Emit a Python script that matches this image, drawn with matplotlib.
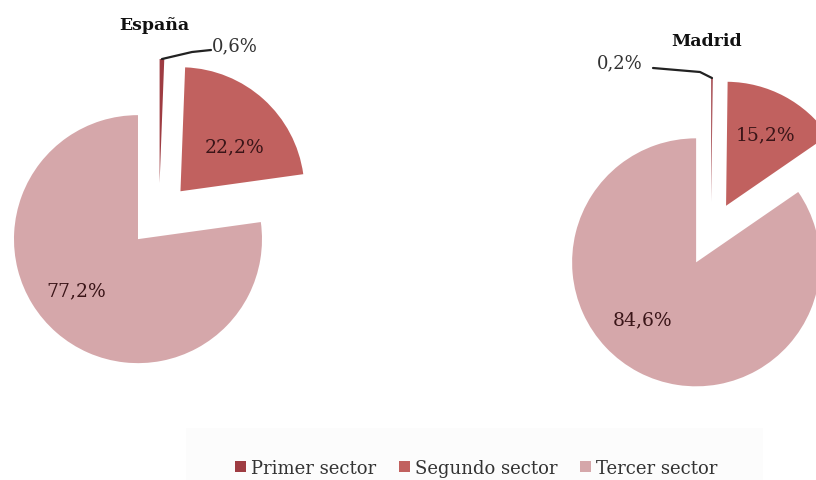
import matplotlib
matplotlib.use("Agg")
import matplotlib.pyplot as plt
from matplotlib.patches import Patch, Rectangle
import numpy as np

# Employment share by sector (%)
sectors = ["Primer sector", "Segundo sector", "Tercer sector"]
espana = [0.6, 22.2, 77.2]
madrid = [0.2, 15.2, 84.6]
regions = ["España", "Madrid"]

colors = ["#9E3C42", "#C1615F", "#D5A7AA"]
label_color = "#3A1518"
text_gray = "#333333"

W, H = 816, 481
fig = plt.figure(figsize=(W / 100, H / 100), dpi=100)
ax = fig.add_axes([0, 0, 1, 1])

radius = 124
explode = 32


def fmt(v):
    return f"{v:.1f}".replace(".", ",") + "%"


def draw_pie(values, center, title, title_pos, label_pos, leader):
    wedges, _ = ax.pie(values, radius=radius, center=center, startangle=90,
                       counterclock=False, explode=[explode] * len(values),
                       colors=colors, wedgeprops=dict(linewidth=0))
    ax.text(*title_pos, title, ha="center", va="center", fontsize=12.5,
            fontweight="bold", family="DejaVu Serif", color="#111111")
    # small first slice: label outside with leader line
    w0 = wedges[0]
    mid = np.deg2rad(0.5 * (w0.theta1 + w0.theta2))
    anchor = (w0.center[0] + w0.r * np.cos(mid), w0.center[1] + w0.r * np.sin(mid))
    (lx, ly), knee, start = label_pos[0], leader[0], leader[1]
    ax.plot([start[0], knee[0], anchor[0]], [start[1], knee[1], anchor[1]],
            color="#222222", lw=1.6, solid_capstyle="round")
    ax.text(lx, ly, fmt(values[0]), ha="center", va="center", fontsize=13,
            family="DejaVu Serif", color=text_gray)
    for v, pos in zip(values[1:], label_pos[1:]):
        ax.text(*pos, fmt(v), ha="center", va="center", fontsize=13.5,
                family="DejaVu Serif", color=label_color)


draw_pie(espana, (159, H - 216), regions[0], (154, H - 26),
         [(235, H - 46), (235, H - 147), (76, H - 291)],
         [(192, H - 53), (211, H - 51)])
draw_pie(madrid, (711, H - 235), regions[1], (707, H - 41),
         [(620, H - 63), (766, H - 135), (643, H - 320)],
         [(700, H - 73), (653, H - 69)])

# faint panel behind the legend
ax.add_patch(Rectangle((186, 0), 577, H - 429, facecolor="#FCFCFC",
                       edgecolor="none", zorder=0))

ax.set_xlim(0, W)
ax.set_ylim(0, H)
ax.set_aspect("equal")
ax.axis("off")

handles = [Patch(facecolor=c, edgecolor="none") for c in colors]
fig.legend(handles, sectors, loc="center", bbox_to_anchor=(476 / W, 1 - 469 / H),
           ncol=3, frameon=False, handlelength=0.6, handleheight=0.6,
           handletextpad=0.28, columnspacing=1.27,
           prop=dict(family="DejaVu Serif", size=13), labelcolor=text_gray)

fig.savefig("out.png", dpi=100, facecolor="white")
